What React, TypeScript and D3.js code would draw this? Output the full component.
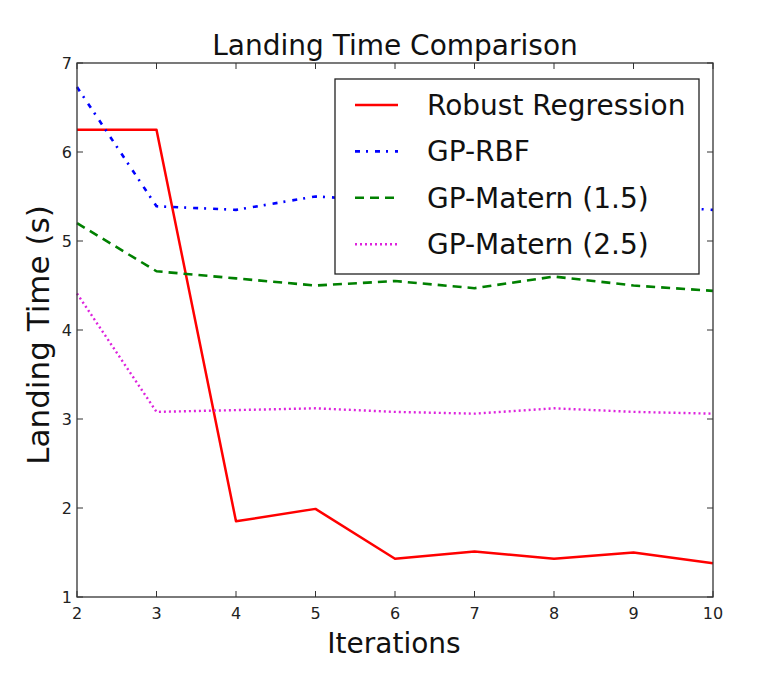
import { useMemo } from 'react';
import * as d3 from 'd3';

interface Series {
  label: string;
  values: number[];
  color: string;
  dash?: string;
  width: number;
}

const iterations = [2, 3, 4, 5, 6, 7, 8, 9, 10];
const robustRegression = [6.25, 6.25, 1.85, 1.99, 1.43, 1.51, 1.43, 1.5, 1.38];
const gpRbf = [6.73, 5.39, 5.35, 5.5, 5.45, 5.4, 5.5, 5.4, 5.35];
const gpMatern15 = [5.2, 4.66, 4.58, 4.5, 4.55, 4.47, 4.6, 4.5, 4.44];
const gpMatern25 = [4.41, 3.08, 3.1, 3.12, 3.08, 3.06, 3.12, 3.08, 3.06];
const xTicks = [2, 3, 4, 5, 6, 7, 8, 9, 10];
const yTicks = [1, 2, 3, 4, 5, 6, 7];

const series: Series[] = [
  { label: 'Robust Regression', values: robustRegression, color: '#ff0000', width: 2.5 },
  { label: 'GP-RBF', values: gpRbf, color: '#0000ff', dash: '5,6,2,7', width: 2.6 },
  { label: 'GP-Matern (1.5)', values: gpMatern15, color: '#008000', dash: '9,6', width: 2.6 },
  { label: 'GP-Matern (2.5)', values: gpMatern25, color: '#dd22dd', dash: '2,3', width: 2.4 },
];

const W = 779;
const H = 695;
const plot = { left: 77, right: 713, top: 63, bottom: 597 };
const font = '"DejaVu Sans", sans-serif';
const axisColor = '#333';

export default function App() {
  const x = useMemo(() => d3.scaleLinear().domain([2, 10]).range([plot.left, plot.right]), []);
  const y = useMemo(() => d3.scaleLinear().domain([1, 7]).range([plot.bottom, plot.top]), []);

  const line = d3
    .line<number>()
    .x((_, i) => x(iterations[i]))
    .y((d) => y(d));

  const tickLen = 6;
  const legend = { x: 335, y: 79, w: 364, h: 195, rowY: 105, rowGap: 46.4 };

  return (
    <svg
      width={W}
      height={H}
      viewBox={`0 0 ${W} ${H}`}
      style={{ position: 'absolute', left: 0, top: 0, background: '#fff' }}
      fontFamily={font}
    >
      <rect x={0} y={0} width={W} height={H} fill="#fff" />

      {/* series */}
      <g fill="none" strokeLinejoin="round">
        {series.map((s) => (
          <path
            key={s.label}
            d={line(s.values) ?? ''}
            stroke={s.color}
            strokeWidth={s.width}
            strokeDasharray={s.dash}
          />
        ))}
      </g>

      {/* frame + inward ticks */}
      <rect
        x={plot.left}
        y={plot.top}
        width={plot.right - plot.left}
        height={plot.bottom - plot.top}
        fill="none"
        stroke={axisColor}
        strokeWidth={1.3}
      />
      <g stroke={axisColor} strokeWidth={1}>
        {xTicks.map((t) => (
          <g key={`x${t}`}>
            <line x1={x(t)} x2={x(t)} y1={plot.bottom} y2={plot.bottom - tickLen} />
            <line x1={x(t)} x2={x(t)} y1={plot.top} y2={plot.top + tickLen} />
          </g>
        ))}
        {yTicks.map((t) => (
          <g key={`y${t}`}>
            <line x1={plot.left} x2={plot.left + tickLen} y1={y(t)} y2={y(t)} />
            <line x1={plot.right} x2={plot.right - tickLen} y1={y(t)} y2={y(t)} />
          </g>
        ))}
      </g>
      <g fontSize={16} fill="#222">
        {xTicks.map((t) => (
          <text key={`xl${t}`} x={x(t)} y={plot.bottom + 22} textAnchor="middle">
            {t}
          </text>
        ))}
        {yTicks.map((t) => (
          <text key={`yl${t}`} x={plot.left - 5} y={y(t) + 6} textAnchor="end">
            {t}
          </text>
        ))}
      </g>

      {/* titles */}
      <text x={(plot.left + plot.right) / 2} y={55} textAnchor="middle" fontSize={28} fill="#111">
        Landing Time Comparison
      </text>
      <text x={394} y={653} textAnchor="middle" fontSize={28} fill="#111">
        Iterations
      </text>
      <text
        transform={`translate(49,335) rotate(-90)`}
        textAnchor="middle"
        fontSize={31}
        fill="#111"
      >
        Landing Time (s)
      </text>

      {/* legend */}
      <rect
        x={legend.x}
        y={legend.y}
        width={legend.w}
        height={legend.h}
        fill="#fff"
        stroke="#222"
        strokeWidth={1.3}
      />
      {series.map((s, i) => {
        const ry = legend.rowY + i * legend.rowGap;
        return (
          <g key={`lg${s.label}`}>
            <line
              x1={355}
              x2={398}
              y1={ry}
              y2={ry}
              stroke={s.color}
              strokeWidth={s.width}
              strokeDasharray={s.dash}
            />
            <text x={427} y={ry + 10} fontSize={28} fill="#111">
              {s.label}
            </text>
          </g>
        );
      })}
    </svg>
  );
}
